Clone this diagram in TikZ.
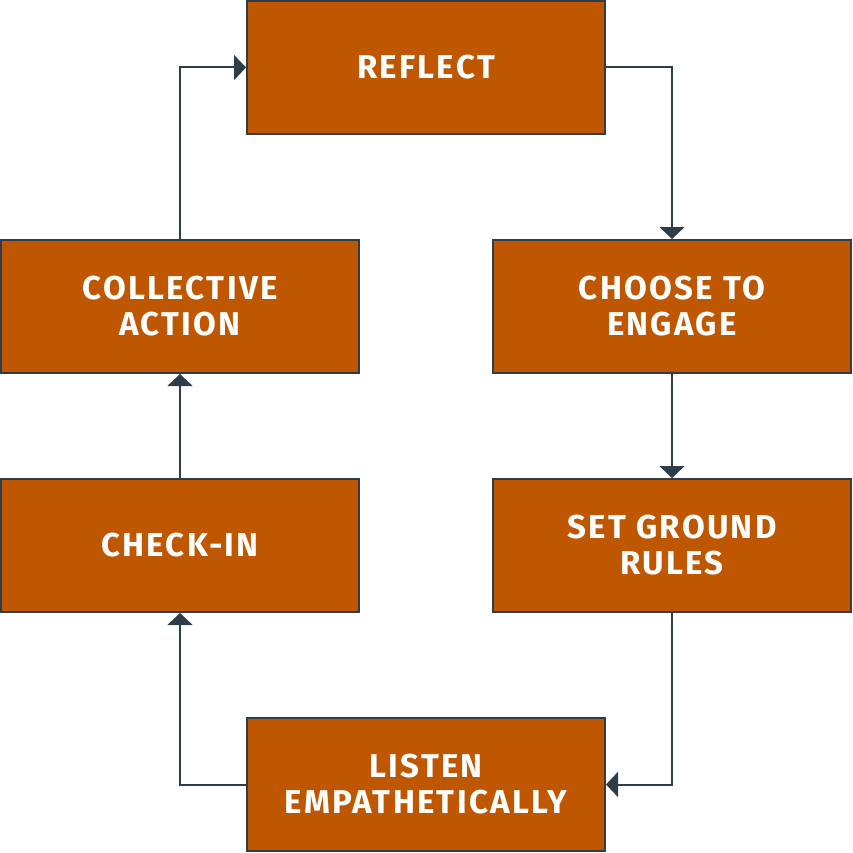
\documentclass[tikz,border=0pt]{standalone}
\usepackage{fontspec}
\setmainfont{Fira Sans}
\usetikzlibrary{arrows.meta}
\definecolor{burnt}{HTML}{BF5700}
\definecolor{ink}{HTML}{2F3D48}
\begin{document}
\begin{tikzpicture}[x=1pt,y=-1pt,
  box/.style={draw=ink, line width=2pt, fill=burnt, minimum width=358pt, minimum height=133pt,
    inner sep=0pt, align=center, text=white, font=\fontsize{33}{36}\selectfont\bfseries\addfontfeatures{LetterSpace=7}},
  conn/.style={draw=ink, line width=2pt, -{Triangle[length=12pt,width=25pt]}}]
\useasboundingbox (0,0) rectangle (852,853);
\node[box] (reflect) at (426,67.5) {REFLECT};
\node[box] (collective) at (180,306.5) {COLLECTIVE\\ACTION};
\node[box] (choose) at (672,306.5) {CHOOSE TO\\ENGAGE};
\node[box] (checkin) at (180,545.5) {CHECK-IN};
\node[box] (rules) at (672,545.5) {SET GROUND\\RULES};
\node[box] (listen) at (426,784.5) {LISTEN\\EMPATHETICALLY};
\draw[conn] (reflect.east) -| (choose.north);
\draw[conn] (choose.south) -- (rules.north);
\draw[conn] (rules.south) |- (listen.east);
\draw[conn] (listen.west) -| (checkin.south);
\draw[conn] (checkin.north) -- (collective.south);
\draw[conn] (collective.north) |- (reflect.west);
\end{tikzpicture}
\end{document}
